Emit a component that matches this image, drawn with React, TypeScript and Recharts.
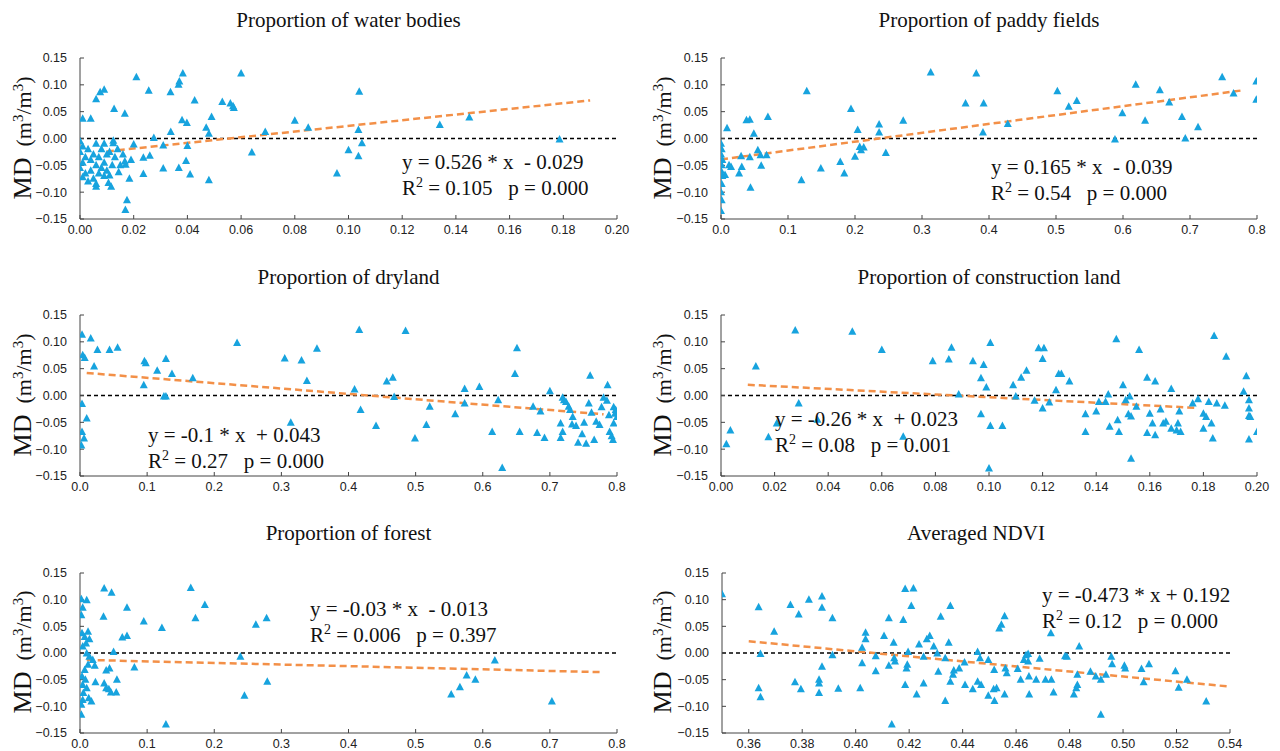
import React from "react";
import { ScatterChart, Scatter, XAxis, YAxis, ReferenceLine } from "recharts";

const BLUE = "#17a3de";
const ORANGE = "#f39048";
const SERIF = "'Liberation Serif', 'Times New Roman', serif";
const TICK_FONT = "'Liberation Sans Narrow', 'Liberation Sans', Arial, sans-serif";

// tick values
const mdTicks = [-0.15, -0.1, -0.05, 0, 0.05, 0.1, 0.15];
const fineTicks = [0, 0.02, 0.04, 0.06, 0.08, 0.1, 0.12, 0.14, 0.16, 0.18, 0.2];
const coarseTicks = [0, 0.1, 0.2, 0.3, 0.4, 0.5, 0.6, 0.7, 0.8];
const ndviTicks = [0.36, 0.38, 0.4, 0.42, 0.44, 0.46, 0.48, 0.5, 0.52, 0.54];

const titles = [
    "Proportion of water bodies",
    "Proportion of paddy fields",
    "Proportion of dryland",
    "Proportion of construction land",
    "Proportion of forest",
    "Averaged NDVI",
];
const equations = [
    "y = 0.526 * x  - 0.029",
    "y = 0.165 * x  - 0.039",
    "y = -0.1 * x  + 0.043",
    "y = -0.26 * x  + 0.023",
    "y = -0.03 * x  - 0.013",
    "y = -0.473 * x + 0.192",
];
const r2Values = ["0.105", "0.54", "0.27", "0.08", "0.006", "0.12"];
const pValues = ["0.000", "0.000", "0.000", "0.001", "0.397", "0.000"];

// scatter points [x, MD]
const waterPoints = [
    [0.001, 0.037], [0.004, 0.037], [0.006, 0.073], [0.0075, 0.086], [0.009, 0.091],
    [0.0127, 0.055], [0.0167, 0.046], [0.021, 0.114], [0.0256, 0.089], [0.0337, 0.086],
    [0.0367, 0.1], [0.037, 0.106], [0.0383, 0.121], [0.0427, 0.071], [0.038, 0.034],
    [0.0398, 0.029], [0.0338, 0.012], [0.0275, 0.001], [0.04, -0.014], [0.031, -0.013],
    [0.02, -0.011], [0.0124, -0.004], [0.0124, -0.009], [0.026, -0.032], [0.0236, -0.036],
    [0.0167, -0.043], [0.017, -0.049], [0.0144, -0.063], [0.0184, -0.075], [0.0236, -0.066],
    [0.031, -0.056], [0.0368, -0.055], [0.0395, -0.042], [0.041, -0.067], [0.011, -0.069],
    [0.0106, -0.083], [0.0116, -0.09], [0.0175, -0.115], [0.0169, -0.133], [0.006, -0.09],
    [0, -0.005], [0.001, -0.015], [0, -0.025], [0.002, -0.035], [0.001, -0.045],
    [0, -0.055], [0.002, -0.065], [0.001, -0.072], [0.003, -0.02], [0.004, -0.04],
    [0.004, -0.06], [0.005, -0.03], [0.005, -0.075], [0.006, -0.01], [0.006, -0.05],
    [0.007, -0.065], [0.007, -0.035], [0.008, -0.02], [0.008, -0.055], [0.009, -0.045],
    [0.009, -0.01], [0.01, -0.03], [0.01, -0.06], [0.011, -0.025], [0.012, -0.05],
    [0.003, -0.08], [0.006, -0.085], [0.009, -0.07], [0.013, -0.035], [0.014, -0.02],
    [0.015, -0.05], [0.016, -0.03], [0.019, -0.04],
    [0.047, 0.02], [0.048, 0.009], [0.049, 0.04], [0.048, -0.078], [0.053, 0.068],
    [0.056, 0.065], [0.057, 0.06], [0.0573, 0.057], [0.06, 0.121], [0.064, -0.026],
    [0.069, 0.012], [0.08, 0.033], [0.085, 0.02], [0.0957, -0.065], [0.1, -0.022],
    [0.1037, 0.016], [0.1037, -0.033], [0.104, 0.087], [0.105, -0.009], [0.134, 0.025],
    [0.145, 0.039], [0.1786, -0.002],
];
const paddyPoints = [
    [0, -0.01], [0.001, -0.02], [0, -0.03], [0.002, -0.04], [0.001, -0.05],
    [0, -0.06], [0.002, -0.07], [0.001, -0.085], [0, -0.1], [0.001, -0.115],
    [0, -0.135], [0.009, 0.019], [0.012, -0.05], [0.015, -0.053], [0.006, -0.068],
    [0.027, -0.065], [0.031, -0.053], [0.03, -0.033], [0.038, 0.034], [0.043, 0.035],
    [0.043, -0.035], [0.044, -0.092], [0.049, 0.009], [0.055, -0.022], [0.059, -0.031],
    [0.06, -0.051], [0.068, -0.031], [0.07, 0.04], [0.12, -0.078], [0.128, 0.088],
    [0.149, -0.056], [0.178, -0.044], [0.184, -0.065], [0.194, 0.055], [0.2, -0.034],
    [0.204, 0.016], [0.207, -0.016], [0.209, -0.022], [0.213, -0.017], [0.236, 0.026],
    [0.236, 0.011], [0.246, -0.027], [0.272, 0.033], [0.313, 0.123], [0.365, 0.065],
    [0.381, 0.121], [0.392, 0.065], [0.391, 0.011], [0.428, 0.027], [0.502, 0.088],
    [0.519, 0.059], [0.531, 0.07], [0.588, -0.002], [0.599, 0.047], [0.619, 0.1],
    [0.633, 0.033], [0.655, 0.09], [0.669, 0.067], [0.688, 0.04], [0.693, 0],
    [0.712, 0.021], [0.748, 0.114], [0.765, 0.084], [0.799, 0.106], [0.799, 0.072],
];
const drylandPoints = [
    [0.003, 0.113], [0.004, 0.075], [0.007, 0.07], [0.003, -0.016], [0.01, -0.043],
    [0.003, -0.068], [0.006, -0.08], [0.002, -0.093], [0.016, 0.106], [0.021, 0.054],
    [0.026, 0.085], [0.044, 0.085], [0.056, 0.089], [0.096, 0.064], [0.098, 0.06],
    [0.095, 0.019], [0.115, 0.046], [0.128, 0.068], [0.125, -0.002], [0.128, -0.002],
    [0.137, 0.04], [0.168, 0.032], [0.234, 0.098], [0.305, 0.069], [0.314, -0.051],
    [0.33, 0.065], [0.338, 0.027], [0.353, 0.087], [0.409, 0.011], [0.416, 0.122],
    [0.418, -0.027], [0.441, -0.057], [0.457, 0.026], [0.466, 0.033], [0.468, -0.003],
    [0.485, 0.12], [0.499, -0.08], [0.516, -0.055], [0.521, -0.021], [0.559, -0.035],
    [0.573, 0.012], [0.573, -0.015], [0.595, 0.016], [0.614, -0.068], [0.623, -0.009],
    [0.629, -0.135], [0.648, 0.04], [0.651, 0.088], [0.655, -0.068], [0.675, -0.021],
    [0.681, -0.07], [0.686, -0.03], [0.692, -0.079], [0.7, 0.008], [0.716, -0.079],
    [0.719, -0.004], [0.721, -0.009], [0.724, -0.012], [0.716, -0.052], [0.719, -0.068],
    [0.728, -0.021], [0.73, -0.027], [0.734, -0.04], [0.733, -0.054], [0.739, -0.057],
    [0.742, -0.088], [0.748, -0.072], [0.751, -0.051], [0.754, -0.09], [0.758, -0.015],
    [0.76, 0.037], [0.762, -0.032], [0.766, -0.083], [0.769, -0.049], [0.774, -0.055],
    [0.777, -0.022], [0.78, -0.004], [0.785, -0.01], [0.786, 0.019], [0.788, -0.037],
    [0.789, -0.068], [0.792, -0.076], [0.794, -0.083], [0.795, -0.022], [0.797, -0.034],
    [0.795, -0.052], [0.798, -0.027], [0.8, -0.04],
];
const constructionPoints = [
    [0.002, -0.091], [0.0035, -0.065], [0.013, 0.054], [0.0177, -0.078], [0.0208, -0.052],
    [0.0277, 0.121], [0.029, -0.015], [0.036, -0.045], [0.049, 0.119], [0.06, 0.085],
    [0.068, -0.077], [0.079, 0.064], [0.085, 0.067], [0.086, 0.089], [0.0887, 0.002],
    [0.094, 0.064], [0.098, 0.057], [0.097, 0.032], [0.099, 0.015], [0.097, -0.035],
    [0.1005, 0.098], [0.1005, -0.057], [0.105, -0.057], [0.1, -0.136], [0.109, 0.019],
    [0.11, -0.002], [0.112, 0.033], [0.114, 0.046], [0.117, -0.01], [0.1185, 0.088],
    [0.12, 0.068], [0.1205, 0.088], [0.12, -0.024], [0.1225, -0.013], [0.125, 0.01],
    [0.126, 0.04], [0.127, 0.04], [0.13, 0.026], [0.136, -0.035], [0.136, -0.068],
    [0.14, -0.03], [0.141, -0.012], [0.1435, -0.012], [0.1445, 0.002], [0.145, -0.058],
    [0.1475, 0.105], [0.148, -0.046], [0.1485, -0.068], [0.15, 0.019], [0.151, -0.009],
    [0.152, -0.035], [0.1525, -0.002], [0.153, -0.039], [0.153, -0.118], [0.155, -0.021],
    [0.156, 0.085], [0.159, 0.033], [0.159, -0.07], [0.16, -0.034], [0.161, -0.052],
    [0.162, 0.026], [0.162, -0.074], [0.164, -0.026], [0.165, -0.052], [0.166, -0.049],
    [0.168, -0.062], [0.168, 0.012], [0.17, -0.065], [0.1705, -0.052], [0.171, -0.03],
    [0.1715, -0.068], [0.176, -0.015], [0.178, -0.007], [0.18, -0.034], [0.18, -0.062],
    [0.181, -0.04], [0.182, -0.012], [0.183, -0.052], [0.1835, -0.08], [0.184, 0.111],
    [0.185, -0.015], [0.188, -0.019], [0.1885, 0.072], [0.195, 0.007], [0.196, 0.036],
    [0.197, -0.009], [0.197, -0.024], [0.197, -0.038], [0.1975, -0.04], [0.197, -0.082],
    [0.2, -0.068],
];
const forestPoints = [
    [0.002, 0.101], [0.004, 0.085], [0.002, 0.071], [0.01, 0.099], [0.003, 0.037],
    [0.007, 0.03], [0.012, 0.04], [0.014, 0.026], [0.009, 0.018], [0.004, 0.012],
    [0.01, -0.001], [0.014, -0.007], [0.019, -0.013], [0.022, -0.024], [0.012, -0.022],
    [0.007, -0.032], [0.003, -0.044], [0.008, -0.05], [0.004, -0.06], [0.01, -0.066],
    [0.005, -0.075], [0.004, -0.088], [0.013, -0.085], [0.017, -0.091], [0.002, -0.116],
    [0.002, -0.097], [0.023, -0.055], [0.036, 0.121], [0.047, 0.113], [0.035, 0.068],
    [0.07, 0.085], [0.07, 0.032], [0.063, 0.029], [0.05, 0.002], [0.039, -0.033],
    [0.044, -0.029], [0.036, -0.057], [0.039, -0.066], [0.043, -0.068], [0.046, -0.074],
    [0.054, -0.074], [0.055, -0.05], [0.081, -0.027], [0.095, 0.059], [0.122, 0.047],
    [0.128, -0.134], [0.165, 0.122], [0.172, 0.065], [0.186, 0.09], [0.239, -0.007],
    [0.245, -0.08], [0.262, 0.053], [0.278, 0.065], [0.279, -0.054], [0.553, -0.078],
    [0.566, -0.064], [0.576, -0.042], [0.589, -0.05], [0.618, -0.014], [0.703, -0.091],
];
const ndviPoints = [
    [0.35, 0.11], [0.3637, 0.086], [0.3644, -0.002], [0.3637, -0.066], [0.3644, -0.083],
    [0.3695, 0.04], [0.3756, 0.09], [0.3787, 0.072], [0.3773, -0.055], [0.3795, -0.068],
    [0.3825, 0.1], [0.3874, 0.106], [0.3874, 0.085], [0.3874, -0.026], [0.3863, -0.05],
    [0.3863, -0.057], [0.3863, -0.075], [0.3913, 0.065], [0.3913, -0.004], [0.3935, -0.067],
    [0.4017, -0.066], [0.4024, -0.019], [0.4024, 0.01], [0.4037, 0.038], [0.4037, 0.026],
    [0.4075, -0.006], [0.4075, -0.034], [0.4106, 0.032], [0.4124, 0.065], [0.4124, -0.024],
    [0.4142, 0.019], [0.4144, -0.01], [0.4147, -0.016], [0.4135, -0.134], [0.4178, 0.062],
    [0.4185, 0.12], [0.4185, -0.06], [0.419, -0.029], [0.4193, -0.022], [0.4196, 0.002],
    [0.4208, 0.088], [0.4216, 0.121], [0.4228, -0.078], [0.4237, 0.016], [0.4254, -0.007],
    [0.4254, -0.057], [0.4266, 0.026], [0.4277, 0.032], [0.4292, 0.012], [0.4305, -0.001],
    [0.4309, -0.035], [0.4318, 0.068], [0.4335, -0.01], [0.4335, -0.09], [0.4348, 0.019],
    [0.4354, 0.088], [0.4354, -0.054], [0.4364, -0.041], [0.4367, -0.033], [0.4387, -0.029],
    [0.4407, -0.018], [0.4409, -0.06], [0.4438, -0.068], [0.4456, 0.002], [0.4456, -0.054],
    [0.4465, -0.01], [0.4469, -0.06], [0.4496, -0.013], [0.4496, -0.08], [0.4518, -0.032],
    [0.4516, -0.068], [0.4519, -0.09], [0.4527, -0.066], [0.4537, 0.046], [0.4545, 0.053],
    [0.4557, 0.069], [0.4557, -0.078], [0.456, -0.029], [0.4565, -0.038], [0.4606, -0.03],
    [0.4617, -0.05], [0.4629, -0.013], [0.4637, -0.004], [0.4645, -0.002], [0.4645, -0.016],
    [0.4648, -0.044], [0.4649, -0.078], [0.4675, -0.05], [0.4688, -0.011], [0.471, -0.05],
    [0.473, 0.037], [0.4732, -0.05], [0.474, -0.074], [0.4783, -0.006], [0.479, -0.007],
    [0.4836, 0.012], [0.4816, -0.078], [0.4825, -0.066], [0.4829, -0.06], [0.4829, -0.041],
    [0.4878, -0.035], [0.4898, -0.044], [0.4917, -0.05], [0.4917, -0.116], [0.4936, -0.041],
    [0.4956, -0.007], [0.4959, -0.021], [0.5005, -0.024], [0.5008, -0.029], [0.5069, -0.03],
    [0.5077, -0.055], [0.5097, -0.021], [0.5196, -0.034], [0.5208, -0.065], [0.5239, -0.05],
    [0.5311, -0.091],
];

// fitted line end points
const waterTrend = [[0.01, -0.024], [0.19, 0.071]];
const paddyTrend = [[0.0, -0.039], [0.78, 0.090]];
const drylandTrend = [[0.01, 0.042], [0.78, -0.035]];
const constructionTrend = [[0.01, 0.020], [0.177, -0.023]];
const forestTrend = [[0.01, -0.013], [0.78, -0.036]];
const ndviTrend = [[0.36, 0.022], [0.54, -0.063]];

const pointSets = [waterPoints, paddyPoints, drylandPoints, constructionPoints, forestPoints, ndviPoints];
const trends = [waterTrend, paddyTrend, drylandTrend, constructionTrend, forestTrend, ndviTrend];
const xDomains: [number, number][] = [[0, 0.2], [0, 0.8], [0, 0.8], [0, 0.2], [0, 0.8], [0.35, 0.54]];
const xTickSets = [fineTicks, coarseTicks, coarseTicks, fineTicks, coarseTicks, ndviTicks];
const xDigits = [2, 1, 1, 2, 1, 2];

// layout (plot boxes in page pixels)
const boxes = [
    { x0: 80, x1: 617, y0: 58, y1: 219, titleY: 20 },
    { x0: 721, x1: 1257, y0: 58, y1: 219, titleY: 20 },
    { x0: 80, x1: 617, y0: 315, y1: 476, titleY: 277 },
    { x0: 721, x1: 1257, y0: 315, y1: 476, titleY: 277 },
    { x0: 80, x1: 617, y0: 573, y1: 733, titleY: 533 },
    { x0: 722, x1: 1230, y0: 573, y1: 733, titleY: 533 },
];
const eqPos = [
    { x: 402, y: 160 },
    { x: 991, y: 165 },
    { x: 148, y: 433 },
    { x: 775, y: 417 },
    { x: 310, y: 607 },
    { x: 1042, y: 593 },
];

const fmt = (digits: number) => (v: number) =>
    (v < -1e-9 ? "\u2212" : "") + Math.abs(v).toFixed(digits);

const Triangle = (props: any) => {
    const { cx, cy } = props;
    if (cx == null || cy == null) return null;
    return (
        <polygon
            points={`${cx},${cy - 4.5} ${cx + 4},${cy + 3} ${cx - 4},${cy + 3}`}
            fill={BLUE}
        />
    );
};

const tickStyle = { fill: "#222", fontSize: 12.5, fontFamily: TICK_FONT };

const Panel = ({ i }: { i: number }) => {
    const box = boxes[i];
    const data = pointSets[i].map(([x, y]) => ({ x, y }));
    const trend = trends[i];
    const padL = 80, padT = 10, padR = 20, padB = 30;
    const w = box.x1 - box.x0 + padL + padR;
    const h = box.y1 - box.y0 + padT + padB;
    const ylabelX = box.x0 < 400 ? 24 : 664;
    const eq = eqPos[i];
    return (
        <>
            <div
                style={{
                    position: "absolute",
                    left: (box.x0 + box.x1) / 2 - 200,
                    width: 400,
                    top: box.titleY - 10,
                    textAlign: "center",
                    fontFamily: SERIF,
                    fontSize: 21,
                    lineHeight: "20px",
                    color: "#111",
                }}
            >
                {titles[i]}
            </div>
            <div
                style={{
                    position: "absolute",
                    left: ylabelX,
                    top: (box.y0 + box.y1) / 2 - 1,
                    transform: "translate(-50%, -50%) rotate(-90deg)",
                    whiteSpace: "pre",
                    fontFamily: SERIF,
                    color: "#111",
                    lineHeight: "28px",
                }}
            >
                <span style={{ fontSize: 26 }}>MD</span>
                <span style={{ fontSize: 22 }}>
                    {"  (m"}
                    <span style={{ fontSize: 15, position: "relative", top: -8 }}>3</span>
                    {"/m"}
                    <span style={{ fontSize: 15, position: "relative", top: -8 }}>3</span>
                    {")"}
                </span>
            </div>
            <div style={{ position: "absolute", left: box.x0 - padL, top: box.y0 - padT }}>
                <ScatterChart width={w} height={h} margin={{ top: padT, right: padR, bottom: 0, left: 0 }}>
                    <XAxis
                        type="number"
                        dataKey="x"
                        domain={xDomains[i]}
                        ticks={xTickSets[i]}
                        allowDataOverflow
                        height={padB}
                        tickFormatter={fmt(xDigits[i])}
                        tick={tickStyle}
                        tickSize={-4}
                        tickMargin={10}
                        axisLine={{ stroke: "#444" }}
                        tickLine={{ stroke: "#444" }}
                        interval={0}
                    />
                    <YAxis
                        type="number"
                        dataKey="y"
                        domain={[-0.15, 0.15]}
                        ticks={mdTicks}
                        allowDataOverflow
                        width={padL}
                        tickFormatter={fmt(2)}
                        tick={tickStyle}
                        tickSize={-4}
                        tickMargin={17}
                        axisLine={{ stroke: "#444" }}
                        tickLine={{ stroke: "#444" }}
                        interval={0}
                    />
                    <Scatter data={data} shape={Triangle} isAnimationActive={false} />
                    <ReferenceLine y={0} stroke="#000" strokeDasharray="4 3" strokeWidth={1.3} />
                    <ReferenceLine
                        segment={[
                            { x: trend[0][0], y: trend[0][1] },
                            { x: trend[1][0], y: trend[1][1] },
                        ]}
                        stroke={ORANGE}
                        strokeDasharray="7 4"
                        strokeWidth={2.5}
                    />
                </ScatterChart>
            </div>
            <div
                style={{
                    position: "absolute",
                    left: eq.x,
                    top: eq.y - 11,
                    fontFamily: SERIF,
                    fontSize: 21,
                    lineHeight: "26px",
                    whiteSpace: "pre",
                    color: "#111",
                }}
            >
                <div style={{ height: 26 }}>{equations[i]}</div>
                <div>
                    {"R"}
                    <span style={{ fontSize: 14, position: "relative", top: -8 }}>2</span>
                    {` = ${r2Values[i]}   p = ${pValues[i]}`}
                </div>
            </div>
        </>
    );
};

export default function App() {
    return (
        <div
            style={{
                position: "absolute",
                left: 0,
                top: 0,
                width: 1280,
                height: 751,
                background: "#fff",
                overflow: "hidden",
            }}
        >
            {titles.map((_, i) => (
                <Panel key={i} i={i} />
            ))}
        </div>
    );
}
